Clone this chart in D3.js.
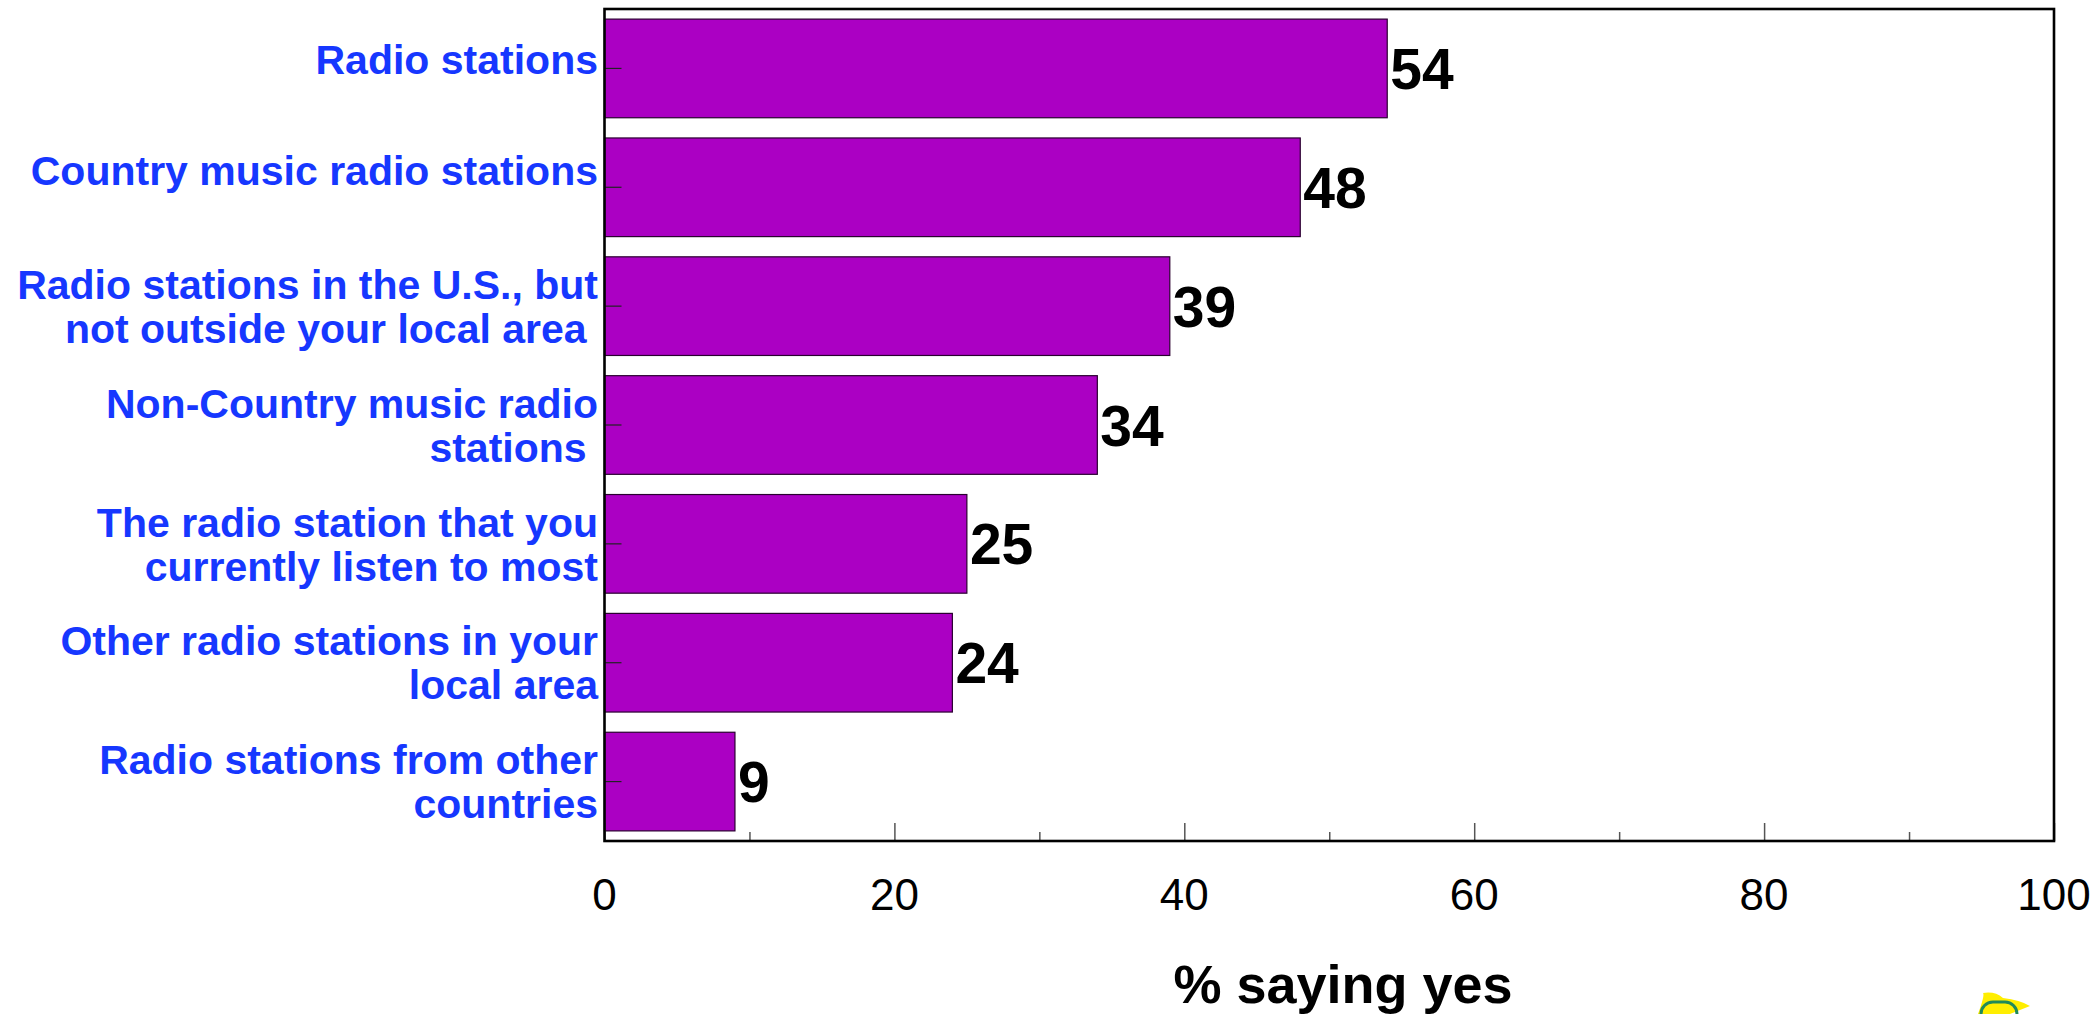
<!DOCTYPE html>
<html>
<head>
<meta charset="utf-8">
<script src="https://cdn.jsdelivr.net/npm/d3@7/dist/d3.min.js"></script>
<style>
  html, body { margin: 0; padding: 0; background: #ffffff; }
  svg { display: block; }
</style>
</head>
<body>
<script>
// ---- data ----
const categories = [
  ["Radio stations"],
  ["Country music radio stations"],
  ["Radio stations in the U.S., but", "not outside your local area "],
  ["Non-Country music radio", "stations "],
  ["The radio station that you", "currently listen to most"],
  ["Other radio stations in your", "local area"],
  ["Radio stations from other", "countries"]
];
const values = [54, 48, 39, 34, 25, 24, 9];
const xTickLabels = [0, 20, 40, 60, 80, 100];
const xMinorTicks = [10, 30, 50, 70, 90];
const axisTitle = "% saying yes";

// ---- layout ----
const W = 2097, H = 1014;
const plotLeft = 604.5, plotRight = 2054, plotTop = 9, plotBottom = 841;
const singleLineShift = [-9, -17];

const svg = d3.select("body").append("svg").attr("width", W).attr("height", H);

const x = d3.scaleLinear().domain([0, 100]).range([plotLeft, plotRight]);
const y = d3.scaleBand().domain(d3.range(categories.length)).range([plotTop, plotBottom])
  .paddingInner(0.17).paddingOuter(0.085);

// bars
svg.append("g").selectAll("rect").data(values).join("rect")
  .attr("x", x(0))
  .attr("y", (d, i) => y(i))
  .attr("width", d => x(d) - x(0))
  .attr("height", y.bandwidth())
  .attr("fill", "#ab00c3")
  .attr("stroke", "#2a0030")
  .attr("stroke-width", 1.2);

// y ticks (inside, at band center)
svg.append("g").selectAll("line").data(values).join("line")
  .attr("x1", x(0)).attr("x2", x(0) + 17)
  .attr("y1", (d, i) => y(i) + y.bandwidth() / 2)
  .attr("y2", (d, i) => y(i) + y.bandwidth() / 2)
  .attr("stroke", "#222").attr("stroke-width", 1.2);

// x axis ticks (inside, pointing up)
const xAxis = d3.axisBottom(x).tickValues(xTickLabels).tickSize(-18).tickFormat("");
const gx = svg.append("g").attr("transform", `translate(0,${plotBottom})`).call(xAxis);
gx.select(".domain").remove();
gx.selectAll(".tick line").attr("stroke", "#555").attr("stroke-width", 1.5);
const xAxisMinor = d3.axisBottom(x).tickValues(xMinorTicks).tickSize(-9).tickFormat("");
const gxm = svg.append("g").attr("transform", `translate(0,${plotBottom})`).call(xAxisMinor);
gxm.select(".domain").remove();
gxm.selectAll(".tick line").attr("stroke", "#555").attr("stroke-width", 1.5);

// x tick labels
svg.append("g").selectAll("text").data(xTickLabels).join("text")
  .attr("x", d => x(d))
  .attr("y", 910)
  .attr("text-anchor", "middle")
  .attr("font-family", "Liberation Sans, Arial, sans-serif")
  .attr("font-size", 44)
  .attr("fill", "#000")
  .text(d => d);

// frame
svg.append("rect")
  .attr("x", plotLeft).attr("y", plotTop)
  .attr("width", plotRight - plotLeft).attr("height", plotBottom - plotTop)
  .attr("fill", "none").attr("stroke", "#000").attr("stroke-width", 2.6);

// category labels
const lineH = 44;
const catG = svg.append("g");
categories.forEach((lines, i) => {
  const cy = y(i) + y.bandwidth() / 2;
  const n = lines.length;
  const startY = n === 1 ? cy + (singleLineShift[i] !== undefined ? singleLineShift[i] : -17)
                         : cy - (n - 1) * lineH / 2;
  const t = catG.append("text")
    .attr("text-anchor", "end")
    .attr("font-family", "Liberation Sans, Arial, sans-serif")
    .attr("font-weight", "bold")
    .attr("font-size", 41)
    .attr("fill", "#1637ff")
    .style("white-space", "pre");
  lines.forEach((ln, k) => {
    t.append("tspan")
      .attr("x", 598)
      .attr("y", startY + k * lineH)
      .attr("dy", "0.36em")
      .text(ln);
  });
});

// value labels
svg.append("g").selectAll("text").data(values).join("text")
  .attr("x", d => x(d) + 3)
  .attr("y", (d, i) => y(i) + y.bandwidth() / 2)
  .attr("dy", "0.36em")
  .attr("font-family", "Liberation Sans, Arial, sans-serif")
  .attr("font-weight", "bold")
  .attr("font-size", 57)
  .attr("fill", "#000")
  .text(d => d);

// axis title
svg.append("text")
  .attr("x", 1343)
  .attr("y", 1003)
  .attr("text-anchor", "middle")
  .attr("font-family", "Liberation Sans, Arial, sans-serif")
  .attr("font-weight", "bold")
  .attr("font-size", 54)
  .attr("fill", "#000")
  .text(axisTitle);

// small logo fragment at bottom right
const logo = svg.append("g");
logo.append("path")
  .attr("d", "M1978,1014 Q1985,995 1983,993 Q1995,991 2003,998 Q2020,1000 2030,1006 Q2015,1012 2010,1014 Z")
  .attr("fill", "#ffee00");
logo.append("rect")
  .attr("x", 1981).attr("y", 1002).attr("width", 36).attr("height", 30).attr("rx", 12)
  .attr("fill", "none").attr("stroke", "#1f8a5a").attr("stroke-width", 3);
</script>
</body>
</html>
